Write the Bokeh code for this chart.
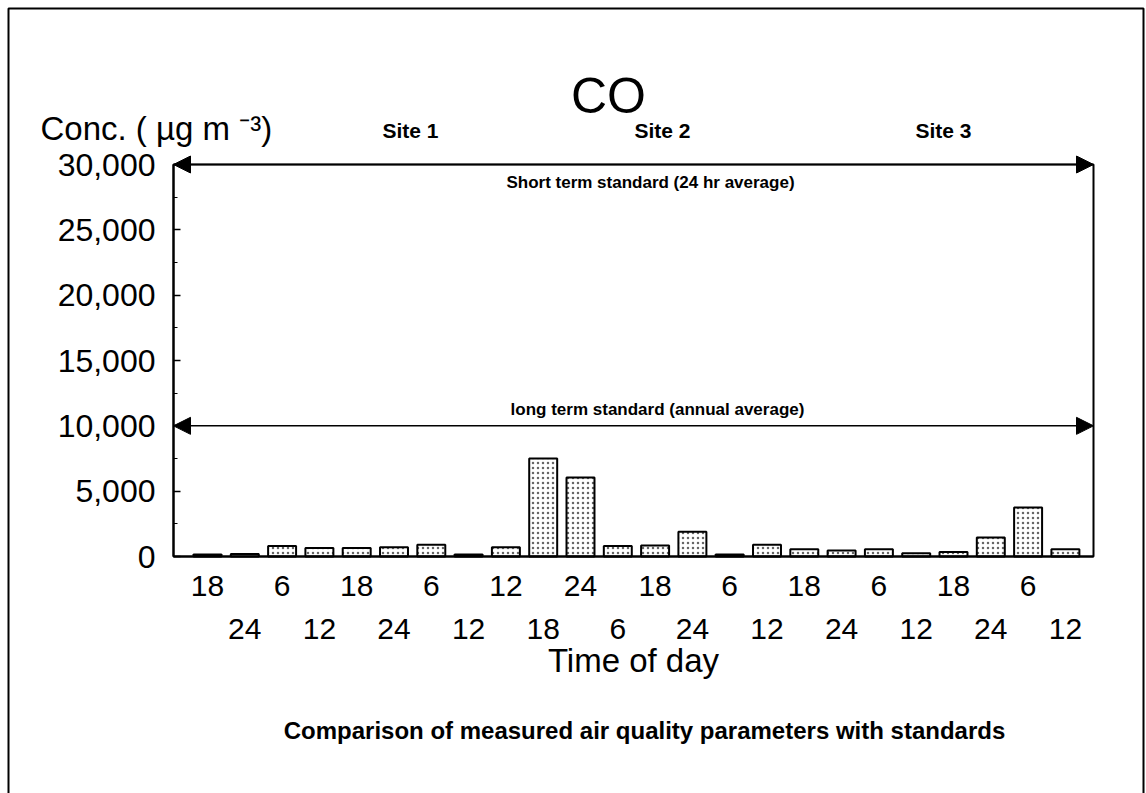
from bokeh.plotting import figure
from bokeh.models import (Range1d, LinearAxis, FixedTicker, NumeralTickFormatter,
                          Arrow, NormalHead, Label, ColumnDataSource, BoxAnnotation)
from bokeh.embed import file_html
from bokeh.resources import INLINE

# ---- data -------------------------------------------------------------
times = ["18", "24", "6", "12", "18", "24", "6", "12", "12", "18", "24", "6",
         "18", "24", "6", "12", "18", "24", "6", "12", "18", "24", "6", "12"]
co_values = [150, 200, 800, 650, 650, 700, 900, 150, 700, 7500, 6050, 800,
             850, 1900, 150, 900, 550, 450, 550, 250, 350, 1450, 3750, 550]
y_ticks = [0, 5000, 10000, 15000, 20000, 25000, 30000]
y_minor = [2500, 7500, 12500, 17500, 22500, 27500]
short_term_standard = 30000
long_term_standard = 10000
y_top = 30000
sites = ["Site 1", "Site 2", "Site 3"]

idx = list(range(len(times)))
src = ColumnDataSource(dict(x=idx, co=co_values))

FONT = "Liberation Sans"
W, H = 1146, 793

# pixel <-> data helpers for placing annotations (layout only)
PX0, STEP = 207.0, 37.3          # page x of first category, px per category
PY0, YSC = 556.0, 392.0 / 30000  # page y of zero, px per unit

def dx(px):
    return (px - PX0) / STEP

def dy(py):
    return (PY0 - py) / YSC

x_lo, x_hi = dx(173), dx(1093)

p = figure(width=W, height=H,
           x_range=Range1d(dx(0), dx(W)), y_range=Range1d(dy(H), dy(0)),
           x_axis_type=None, y_axis_type=None,
           output_backend="svg", toolbar_location=None,
           min_border=0, min_border_left=0, min_border_right=0,
           min_border_top=0, min_border_bottom=0)
p.title.visible = False
p.grid.visible = False
p.outline_line_color = None
p.background_fill_color = "white"
p.border_fill_color = "white"

# page frame (scan border)
p.add_layout(BoxAnnotation(left=dx(8), right=dx(1143), top=dy(8), bottom=dy(H + 100),
                           fill_color=None, fill_alpha=0, line_color="black",
                           line_alpha=1.0, line_width=2))
# plot box
p.add_layout(BoxAnnotation(left=x_lo, right=x_hi, bottom=0, top=y_top,
                           fill_color=None, fill_alpha=0, line_color="black",
                           line_alpha=1.0, line_width=2))

# bars
p.vbar(x="x", top="co", width=0.75, source=src, fill_color="white",
       line_color="black", line_width=2, hatch_pattern="dot",
       hatch_scale=5, hatch_weight=1, hatch_color="black", hatch_alpha=0.6)

# y axis fixed at the plot's left edge
ya = LinearAxis(fixed_location=x_lo, bounds=(0, y_top),
                ticker=FixedTicker(ticks=y_ticks, minor_ticks=y_minor),
                formatter=NumeralTickFormatter(format="0,0"))
ya.major_label_text_font = FONT
ya.major_label_text_font_size = "32px"
ya.major_label_text_color = "black"
ya.major_tick_in = 7
ya.major_tick_out = 0
ya.minor_tick_in = 4
ya.minor_tick_out = 0
ya.major_tick_line_width = 1.5
ya.axis_line_width = 2
ya.major_label_standoff = 18
p.add_layout(ya, "left")

# two staggered x axes at y = 0
even = idx[0::2]
odd = idx[1::2]
ax_top = LinearAxis(fixed_location=0, bounds=(x_lo, x_hi),
                    ticker=FixedTicker(ticks=even),
                    major_label_overrides={i: times[i] for i in even})
ax_bot = LinearAxis(fixed_location=0, bounds=(x_lo, x_hi),
                    ticker=FixedTicker(ticks=odd),
                    major_label_overrides={i: times[i] for i in odd},
                    axis_label="Time of day")
for ax, sd in ((ax_top, 13), (ax_bot, 56)):
    ax.major_tick_line_color = None
    ax.minor_tick_line_color = None
    ax.major_label_text_font = FONT
    ax.major_label_text_font_size = "30px"
    ax.major_label_text_color = "black"
    ax.major_label_standoff = sd
ax_top.axis_line_width = 2
ax_bot.axis_line_color = None
ax_bot.axis_label_text_font = FONT
ax_bot.axis_label_text_font_size = "33px"
ax_bot.axis_label_text_font_style = "normal"
ax_bot.axis_label_text_color = "black"
ax_bot.axis_label_standoff = 0
p.add_layout(ax_top, "below")
p.add_layout(ax_bot, "below")

# standards arrows
for yv in (short_term_standard, long_term_standard):
    p.add_layout(Arrow(start=NormalHead(size=17, fill_color="black", line_color="black"),
                       end=NormalHead(size=17, fill_color="black", line_color="black"),
                       x_start=x_lo, x_end=x_hi, y_start=yv, y_end=yv,
                       line_color="black", line_width=1.5))

def lab(px, py, text, size, bold=False, align="center"):
    p.add_layout(Label(x=dx(px), y=dy(py), text=text, text_font=FONT,
                       text_font_size=size, text_align=align,
                       text_baseline="middle", text_color="black",
                       text_font_style="bold" if bold else "normal"))

lab(608, 95, "CO", "50px")
lab(40, 128, "Conc. ( µg m ⁻³)", "33px", align="left")
for spx, s in zip([410, 662, 943], sites):
    lab(spx, 130, s, "21px", bold=True)
lab(650, 182, "Short term standard (24 hr average)", "17px", bold=True)
lab(657, 409, "long term standard (annual average)", "17px", bold=True)
lab(644, 730, "Comparison of measured air quality parameters with standards",
    "24px", bold=True)

open("out.html", "w").write(file_html(p, INLINE))
